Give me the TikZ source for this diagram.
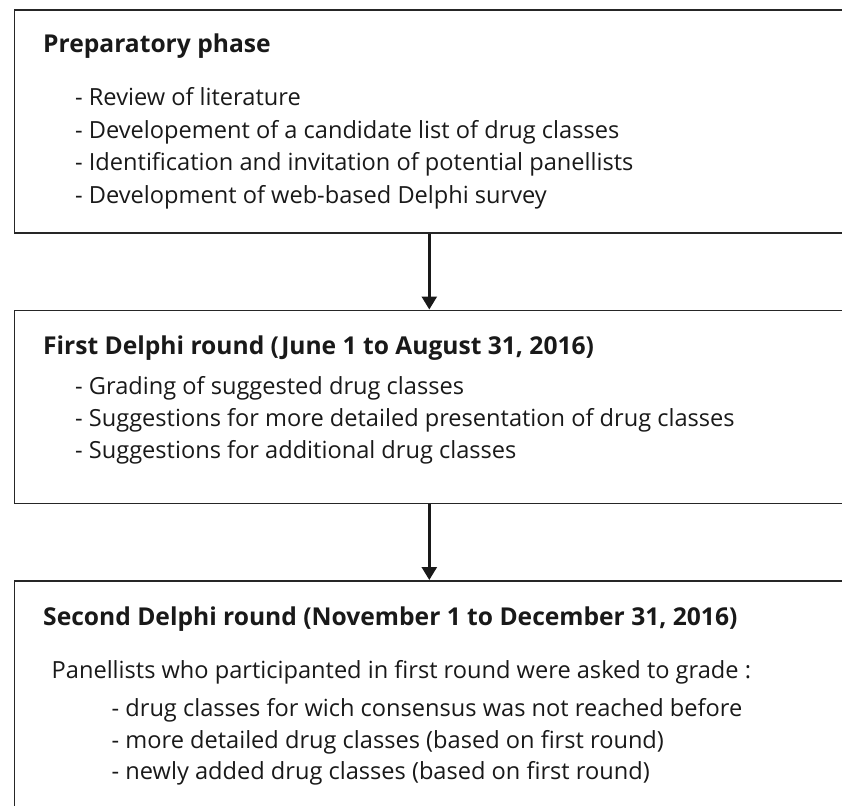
\documentclass[tikz,border=0pt]{standalone}
\usepackage{fontspec}
\setmainfont{Open Sans}
\usetikzlibrary{arrows.meta,positioning}

\begin{document}
\begin{tikzpicture}[x=1pt,y=-1pt,
  phasebox/.style={draw=black!85,line width=1.6pt,anchor=north west,minimum width=830pt,inner sep=0pt},
  head/.style={anchor=base west,inner sep=0pt,text=black!90,font=\fontsize{24.6}{29}\selectfont\bfseries},
  item/.style={anchor=base west,inner sep=0pt,text=black!90,font=\fontsize{23.6}{28}\selectfont},
  flow/.style={draw=black!90,line width=2.6pt,-{Triangle[width=15pt,length=13pt]}}]
\useasboundingbox (0,0) rectangle (842,805);
\clip (0,0) rectangle (842,805);
%%%%% boxes:
\node[phasebox,minimum height=223pt] (prep) at (13.5,9.3) {};
\node[phasebox,minimum height=193pt] (first) at (13.5,309.5) {};
\node[phasebox,minimum height=260pt] (second) at (13.5,580) {};
%%%%% arrows:
\draw[flow] (prep.south) -- (first.north);
\draw[flow] (first.south) -- (second.north);
%%%%% preparatory phase:
\node[head] (prephead) at (43,52.7) {Preparatory phase};
\node[item] (prepa) at (75,106) {- Review of literature};
\node[item] (prepb) at (75,138.5) {- Developement of a candidate list of drug classes};
\node[item] (prepc) at (75,171) {- Identification and invitation of potential panellists};
\node[item] (prepd) at (75,203.5) {- Development of web-based Delphi survey};
%%%%% first round:
\node[head] (firsthead) at (43,354) {First Delphi round (June 1 to August 31, 2016)};
\node[item] (firsta) at (75,394) {- Grading of suggested drug classes};
\node[item] (firstb) at (75,426) {- Suggestions for more detailed presentation of drug classes};
\node[item] (firstc) at (75,458) {- Suggestions for additional drug classes};
%%%%% second round:
\node[head] (secondhead) at (43,625) {Second Delphi round (November 1 to December 31, 2016)};
\node[item] (secondintro) at (51.5,678) {Panellists who participanted in first round were asked to grade :};
\node[item] (seconda) at (111.5,716.5) {- drug classes for wich consensus was not reached before};
\node[item] (secondb) at (111.5,748) {- more detailed drug classes (based on first round)};
\node[item] (secondc) at (111.5,779) {- newly added drug classes (based on first round)};
\end{tikzpicture}
\end{document}
